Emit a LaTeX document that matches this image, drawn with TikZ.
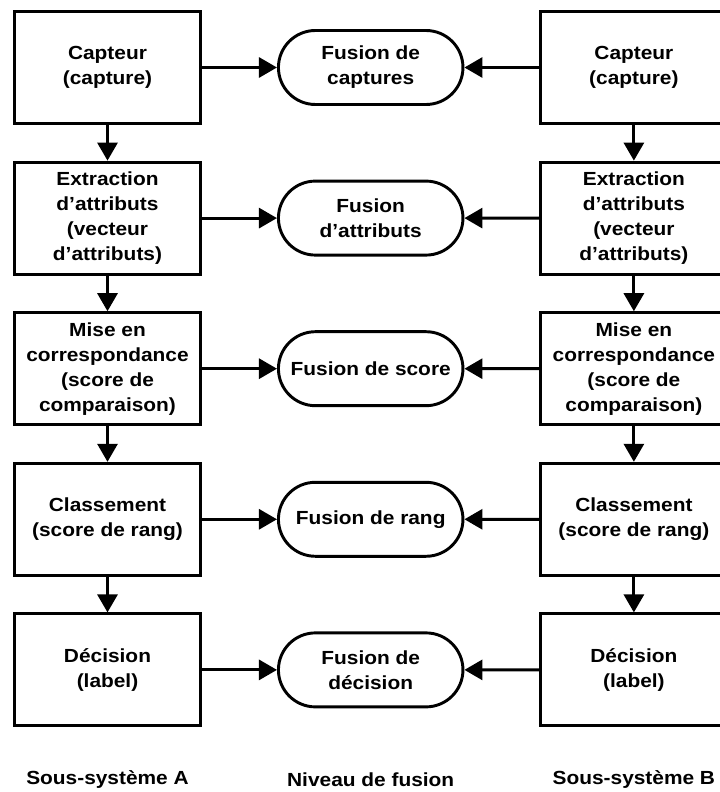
\documentclass[tikz,border=0pt]{standalone}
\usepackage{fontspec}
\setmainfont{Liberation Sans}[FakeStretch=1.1]
\usetikzlibrary{arrows.meta,positioning,shapes.misc}
\newcommand{\police}{\bfseries\fontsize{16.2}{21.3}\selectfont}

\begin{document}
\begin{tikzpicture}[node distance=1.07cm and 2.25cm,
  bloc/.style={draw,line width=2.5pt,minimum width=5.58cm,minimum height=3.36cm,align=center,font=\police},
  fusion/.style={draw,line width=2.5pt,rounded rectangle,minimum width=5.77cm,minimum height=2.22cm,align=center,font=\police},
  legende/.style={font=\police,anchor=center},
  fleche/.style={line width=2.5pt,-{Triangle[length=0.54cm,width=0.6cm]}}]
\useasboundingbox (-3.225,2.025) rectangle ++(21.6,-23.76);
% sous-systeme A
\node[bloc] (capA) at (0,0) {Capteur\\(capture)};
\node[bloc,below=of capA] (extA) {Extraction\\d’attributs\\(vecteur\\d’attributs)};
\node[bloc,below=of extA] (corA) {Mise en\\correspondance\\(score de\\comparaison)};
\node[bloc,below=of corA] (claA) {Classement\\(score de rang)};
\node[bloc,below=of claA] (decA) {Décision\\(label)};
% niveau de fusion
\node[fusion,right=of capA] (fcap) {Fusion de\\captures};
\node[fusion,right=of extA] (fatt) {Fusion\\d’attributs};
\node[fusion,right=of corA] (fsco) {Fusion de score};
\node[fusion,right=of claA] (fran) {Fusion de rang};
\node[fusion,right=of decA] (fdec) {Fusion de\\décision};
% sous-systeme B
\node[bloc,right=of fcap] (capB) {Capteur\\(capture)};
\node[bloc,right=of fatt] (extB) {Extraction\\d’attributs\\(vecteur\\d’attributs)};
\node[bloc,right=of fsco] (corB) {Mise en\\correspondance\\(score de\\comparaison)};
\node[bloc,right=of fran] (claB) {Classement\\(score de rang)};
\node[bloc,right=of fdec] (decB) {Décision\\(label)};
% legendes
\node[legende,below=3.3cm of decA.center,anchor=center] (sousA) {Sous-système A};
\node[legende,below=3.3cm of fdec.center,anchor=center] (niveau) {Niveau de fusion};
\node[legende,below=3.3cm of decB.center,anchor=center] (sousB) {Sous-système B};
% fleches
\foreach \a/\b in {capA/extA,extA/corA,corA/claA,claA/decA,capB/extB,extB/corB,corB/claB,claB/decB}
  \draw[fleche] (\a) -- (\b);
\foreach \n/\f in {cap/fcap,ext/fatt,cor/fsco,cla/fran,dec/fdec}{
  \draw[fleche] (\n A) -- (\f);
  \draw[fleche] (\n B) -- (\f);
}
\end{tikzpicture}
\end{document}
